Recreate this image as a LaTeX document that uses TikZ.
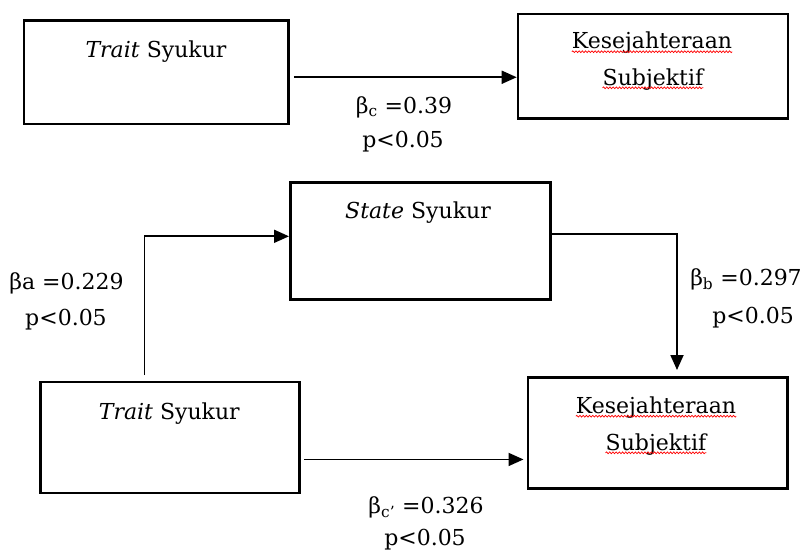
\documentclass[tikz,border=0pt]{standalone}
\usepackage{fontspec}
\setmainfont{DejaVu Serif}
\usetikzlibrary{arrows.meta,decorations.pathmorphing}
\tikzset{
  boxnode/.style={draw, line width=2.5pt, inner sep=0pt, anchor=north west},
  lbl/.style={inner sep=0pt, anchor=base, font=\fontsize{22pt}{26pt}\selectfont},
  conn/.style={line width=1.8pt, -{Triangle[length=15pt,width=13pt]}},
  wavy/.style={red, line width=0.7pt, decorate, decoration={snake, amplitude=0.9pt, segment length=3.2pt}}
}
\begin{document}
\begin{tikzpicture}[x=1pt,y=-1pt]
\useasboundingbox (0,0) rectangle (806,550);
% top row
\node[boxnode, minimum width=264.6pt, minimum height=103.4pt] (t1) at (22.7,19.3) {};
\node[boxnode, minimum width=270pt, minimum height=104.6pt] (k1) at (516.7,12.7) {};
\node[lbl] (t1l) at (156,57) {\textit{Trait} Syukur};
\node[lbl] (k1a) at (652,48.5) {Kesejahteraan};
\node[lbl] (k1b) at (653,85) {Subjektif};
\draw[wavy] ([yshift=-3.2pt]k1a.base west) -- ([yshift=-3.2pt]k1a.base east);
\draw[wavy] ([yshift=-2.8pt]k1b.base west) -- ([yshift=-2.8pt]k1b.base east);
\coordinate (c0) at ([shift={(4pt,-5pt)}]t1.east);
\coordinate (c1) at (c0 -| k1.west);
\draw[conn] (c0) -- (c1);
\node[lbl] (bc) at (404,113) {β\textsubscript{c} =0.39};
\node[lbl] (pc) at (403,147.5) {p<0.05};
% bottom
\node[boxnode, minimum width=260.3pt, minimum height=117.3pt] (s) at (289,181) {};
\node[boxnode, minimum width=259pt, minimum height=111pt] (t2) at (39.3,380.7) {};
\node[boxnode, minimum width=259.5pt, minimum height=111pt] (k2) at (526.5,376) {};
\node[lbl] (sl) at (418,218) {\textit{State} Syukur};
\node[lbl] (t2l) at (169.3,419.3) {\textit{Trait} Syukur};
\node[lbl] (k2a) at (656,413) {Kesejahteraan};
\node[lbl] (k2b) at (656,450) {Subjektif};
\draw[wavy] ([yshift=-3.2pt]k2a.base west) -- ([yshift=-3.2pt]k2a.base east);
\draw[wavy] ([yshift=-2.8pt]k2b.base west) -- ([yshift=-2.8pt]k2b.base east);
% a path
\coordinate (a0) at ([shift={(-25.5pt,5.5pt)}]t2.north);
\draw[conn] (a0) |- ([yshift=4.6pt]s.west);
% b path
\coordinate (b1) at ([shift={(19.5pt,6pt)}]k2.north);
\draw[conn] ([yshift=7pt]s.east) -| (b1);
% c' path
\coordinate (d0) at ([shift={(3.4pt,-22pt)}]t2.east);
\coordinate (d1) at (d0 -| k2.west);
\draw[conn] (d0) -- ([xshift=-3pt]d1);
% labels
\node[lbl] (ba) at (66.5,289) {βa =0.229};
\node[lbl] (pa) at (66,325) {p<0.05};
\node[lbl] (bb) at (746,285) {β\textsubscript{b} =0.297};
\node[lbl] (pb) at (753,323) {p<0.05};
\node[lbl] (bcp) at (426,513) {β\textsubscript{c'} =0.326};
\node[lbl] (pcp) at (425,545) {p<0.05};
\end{tikzpicture}
\end{document}
